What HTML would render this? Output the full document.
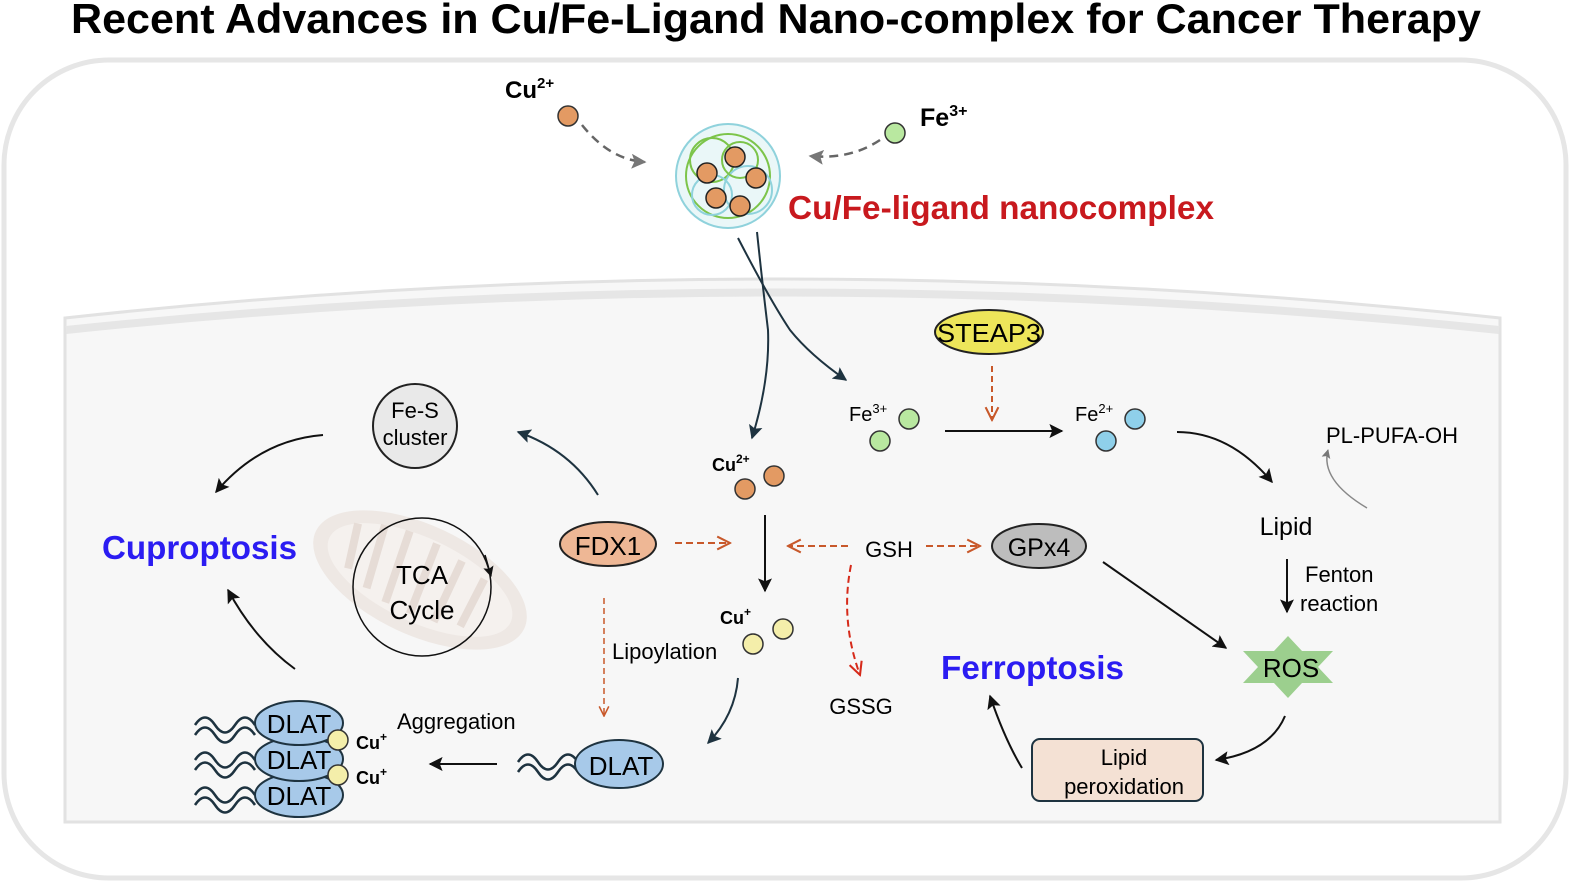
<!DOCTYPE html>
<html><head><meta charset="utf-8"><style>
html,body{margin:0;padding:0;background:#fff;}
svg{display:block;font-family:"Liberation Sans",sans-serif;}
</style></head><body>
<svg width="1581" height="886" viewBox="0 0 1581 886" xmlns="http://www.w3.org/2000/svg">
<defs>
<marker id="ab" viewBox="0 0 10 10" refX="9" refY="5" markerWidth="7" markerHeight="7" orient="auto-start-reverse"><path d="M0,0 L10,5 L0,10 L2,5 z" fill="#111"/></marker>
<marker id="an" viewBox="0 0 10 10" refX="9" refY="5" markerWidth="7" markerHeight="7" orient="auto"><path d="M0,0 L10,5 L0,10 L2,5 z" fill="#1e3340"/></marker>
<marker id="ag" viewBox="0 0 10 10" refX="9" refY="5" markerWidth="6" markerHeight="6" orient="auto"><path d="M0,0 L10,5 L0,10 L2,5 z" fill="#777"/></marker>
<marker id="ao" viewBox="0 0 10 10" refX="9" refY="5" markerWidth="8" markerHeight="8" orient="auto"><path d="M1,1 L9,5 L1,9" fill="none" stroke="#c8582a" stroke-width="1.3"/></marker>
<marker id="ar" viewBox="0 0 10 10" refX="9" refY="5" markerWidth="8" markerHeight="8" orient="auto"><path d="M1,1 L9,5 L1,9" fill="none" stroke="#d62a1a" stroke-width="1.3"/></marker>
</defs>
<rect width="1581" height="886" fill="#fff"/>
<text x="776" y="33" text-anchor="middle" font-size="42" font-weight="bold" fill="#000" textLength="1410" lengthAdjust="spacingAndGlyphs">Recent Advances in Cu/Fe-Ligand Nano-complex for Cancer Therapy</text>
<rect x="4" y="60" width="1562" height="818" rx="105" fill="#fff" stroke="#e6e6e6" stroke-width="5"/>
<path d="M65,318 Q780,240 1500,318 L1500,822 L65,822 Z" fill="#f7f7f7" stroke="#e2e2e2" stroke-width="3"/>
<path d="M66,330 Q780,255 1499,330" fill="none" stroke="#e6e6e6" stroke-width="8"/>
<text x="505" y="98" font-size="24" font-weight="bold">Cu<tspan font-size="15" dy="-10">2+</tspan></text>
<circle cx="568" cy="116" r="10" fill="#e39a63" stroke="#333" stroke-width="1.5"/>
<path d="M582,125 Q610,160 645,162" fill="none" stroke="#666" stroke-width="2.5" stroke-dasharray="9,6" marker-end="url(#ag)"/>
<text x="920" y="126" font-size="25" font-weight="bold">Fe<tspan font-size="16" dy="-10">3+</tspan></text>
<circle cx="895" cy="133" r="10" fill="#b9e8a0" stroke="#333" stroke-width="1.5"/>
<path d="M880,140 Q850,160 810,156" fill="none" stroke="#666" stroke-width="2.5" stroke-dasharray="9,6" marker-end="url(#ag)"/>
<g>
<circle cx="728" cy="176" r="52" fill="#eaf7f8" stroke="#8fd2dc" stroke-width="2"/>
<circle cx="728" cy="176" r="42" fill="none" stroke="#7cc44a" stroke-width="2"/>
<circle cx="712" cy="160" r="22" fill="none" stroke="#7cc44a" stroke-width="2"/>
<circle cx="748" cy="190" r="24" fill="none" stroke="#8fd2dc" stroke-width="2"/>
<circle cx="740" cy="160" r="18" fill="none" stroke="#7cc44a" stroke-width="2"/>
<circle cx="712" cy="195" r="20" fill="none" stroke="#8fd2dc" stroke-width="2"/>
<circle cx="735" cy="157" r="10" fill="#e39a63" stroke="#222" stroke-width="1.5"/>
<circle cx="707" cy="173" r="10" fill="#e39a63" stroke="#222" stroke-width="1.5"/>
<circle cx="756" cy="178" r="10" fill="#e39a63" stroke="#222" stroke-width="1.5"/>
<circle cx="716" cy="198" r="10" fill="#e39a63" stroke="#222" stroke-width="1.5"/>
<circle cx="740" cy="206" r="10" fill="#e39a63" stroke="#222" stroke-width="1.5"/>
</g>
<text x="788" y="219" font-size="33" font-weight="bold" fill="#c8191e" textLength="426" lengthAdjust="spacingAndGlyphs">Cu/Fe-ligand nanocomplex</text>
<path d="M757,232 Q762,280 768,330 Q770,380 752,438" fill="none" stroke="#1e3340" stroke-width="2" marker-end="url(#an)"/>
<path d="M738,238 Q770,300 790,330 Q810,355 846,380" fill="none" stroke="#1e3340" stroke-width="2" marker-end="url(#an)"/>
<ellipse cx="989" cy="332" rx="54" ry="22" fill="#ede55a" stroke="#222" stroke-width="2"/>
<text x="989" y="342" text-anchor="middle" font-size="26" textLength="104" lengthAdjust="spacingAndGlyphs">STEAP3</text>
<path d="M992,366 L992,420" stroke="#c8582a" stroke-width="2" stroke-dasharray="6,4" fill="none" marker-end="url(#ao)"/>
<text x="849" y="421" font-size="20">Fe<tspan font-size="13" dy="-8">3+</tspan></text>
<circle cx="909" cy="419" r="10" fill="#b9e8a0" stroke="#333" stroke-width="1.5"/>
<circle cx="880" cy="441" r="10" fill="#b9e8a0" stroke="#333" stroke-width="1.5"/>
<path d="M945,431 L1062,431" stroke="#111" stroke-width="2" marker-end="url(#ab)"/>
<text x="1075" y="421" font-size="20">Fe<tspan font-size="13" dy="-8">2+</tspan></text>
<circle cx="1135" cy="419" r="10" fill="#8fd0ea" stroke="#333" stroke-width="1.5"/>
<circle cx="1106" cy="441" r="10" fill="#8fd0ea" stroke="#333" stroke-width="1.5"/>
<path d="M1177,432 Q1230,432 1272,482" fill="none" stroke="#111" stroke-width="2" marker-end="url(#ab)"/>
<text x="1326" y="443" font-size="22">PL-PUFA-OH</text>
<path d="M1367,508 Q1320,480 1328,450" fill="none" stroke="#888" stroke-width="1.5" marker-end="url(#ag)"/>
<text x="1286" y="535" text-anchor="middle" font-size="25">Lipid</text>
<path d="M1287,559 L1287,612" stroke="#111" stroke-width="2" marker-end="url(#ab)"/>
<text x="1305" y="582" font-size="22">Fenton</text>
<text x="1300" y="611" font-size="22">reaction</text>
<polygon points="1288,636 1302,651 1333,651 1318,667 1333,683 1302,683 1288,698 1274,683 1243,683 1258,667 1243,651 1274,651" fill="#9ccf8e"/>
<text x="1291" y="677" text-anchor="middle" font-size="26">ROS</text>
<path d="M1103,562 L1226,648" stroke="#111" stroke-width="2" marker-end="url(#ab)"/>
<path d="M1285,716 Q1270,752 1216,760" fill="none" stroke="#111" stroke-width="2" marker-end="url(#ab)"/>
<rect x="1032" y="739" width="171" height="62" rx="8" fill="#f4e1d4" stroke="#1e3340" stroke-width="2"/>
<text x="1124" y="765" text-anchor="middle" font-size="22">Lipid</text>
<text x="1124" y="794" text-anchor="middle" font-size="22">peroxidation</text>
<path d="M1022,768 Q1005,740 990,696" fill="none" stroke="#111" stroke-width="2" marker-end="url(#ab)"/>
<text x="941" y="679" font-size="33" font-weight="bold" fill="#2b1cf2" textLength="183" lengthAdjust="spacingAndGlyphs">Ferroptosis</text>
<text x="889" y="557" text-anchor="middle" font-size="22">GSH</text>
<path d="M926,546 L980,546" stroke="#c8582a" stroke-width="2" stroke-dasharray="7,4" fill="none" marker-end="url(#ao)"/>
<path d="M848,546 L788,546" stroke="#c8582a" stroke-width="2" stroke-dasharray="7,4" fill="none" marker-end="url(#ao)"/>
<path d="M851,565 Q840,620 860,675" fill="none" stroke="#d62a1a" stroke-width="2" stroke-dasharray="7,4" marker-end="url(#ar)"/>
<text x="861" y="714" text-anchor="middle" font-size="22">GSSG</text>
<ellipse cx="1039" cy="546" rx="47" ry="22" fill="#bdbdbd" stroke="#222" stroke-width="2"/>
<text x="1039" y="556" text-anchor="middle" font-size="25">GPx4</text>
<text x="712" y="471" font-size="18" font-weight="bold">Cu<tspan font-size="12" dy="-8">2+</tspan></text>
<circle cx="774" cy="476" r="10" fill="#e39a63" stroke="#333" stroke-width="1.5"/>
<circle cx="745" cy="489" r="10" fill="#e39a63" stroke="#333" stroke-width="1.5"/>
<path d="M765,515 L765,591" stroke="#111" stroke-width="2" marker-end="url(#ab)"/>
<text x="720" y="624" font-size="18" font-weight="bold">Cu<tspan font-size="12" dy="-8">+</tspan></text>
<circle cx="783" cy="629" r="10" fill="#f4eeaa" stroke="#333" stroke-width="1.5"/>
<circle cx="753" cy="644" r="10" fill="#f4eeaa" stroke="#333" stroke-width="1.5"/>
<text x="612" y="659" font-size="22">Lipoylation</text>
<path d="M738,678 Q735,715 708,743" fill="none" stroke="#1e3340" stroke-width="2" marker-end="url(#an)"/>
<ellipse cx="608" cy="544" rx="48" ry="22" fill="#eeb795" stroke="#222" stroke-width="2"/>
<text x="608" y="555" text-anchor="middle" font-size="26">FDX1</text>
<path d="M675,543 L730,543" stroke="#c8582a" stroke-width="2" stroke-dasharray="7,4" fill="none" marker-end="url(#ao)"/>
<path d="M604,598 L604,716" stroke="#c8582a" stroke-width="1.5" stroke-dasharray="6,4" fill="none" marker-end="url(#ao)"/>
<path d="M598,495 Q570,450 518,432" fill="none" stroke="#1e3340" stroke-width="2" marker-end="url(#an)"/>
<circle cx="415" cy="426" r="42" fill="#e9e9e9" stroke="#222" stroke-width="2"/>
<text x="415" y="418" text-anchor="middle" font-size="22">Fe-S</text>
<text x="415" y="445" text-anchor="middle" font-size="22">cluster</text>
<path d="M323,435 Q260,440 216,492" fill="none" stroke="#111" stroke-width="2" marker-end="url(#ab)"/>
<text x="102" y="559" font-size="33" font-weight="bold" fill="#2b1cf2" textLength="195" lengthAdjust="spacingAndGlyphs">Cuproptosis</text>
<path d="M295,669 Q255,640 228,590" fill="none" stroke="#111" stroke-width="2" marker-end="url(#ab)"/>
<g transform="rotate(25 420 580)">
<ellipse cx="420" cy="580" rx="115" ry="55" fill="#ebe3df" opacity="0.8"/>
<ellipse cx="420" cy="580" rx="100" ry="42" fill="#f5f1ee"/>
<path d="M340,555 L350,600 M365,545 L375,610 M390,540 L398,615 M420,540 L425,615 M450,545 L450,612 M478,552 L476,605" stroke="#e6dcd6" stroke-width="8"/>
</g>
<circle cx="422" cy="587" r="69" fill="none" stroke="#111" stroke-width="1.5"/>
<path d="M485,555 L491,576" stroke="#111" stroke-width="1.5" marker-end="url(#ab)"/>
<text x="422" y="584" text-anchor="middle" font-size="26">TCA</text>
<text x="422" y="619" text-anchor="middle" font-size="26">Cycle</text>
<path d="M518,772 q10,-15 20,0 t20,0 t20,0 M518,762 q10,-15 20,0 t20,0 t20,0" fill="none" stroke="#1e3340" stroke-width="2.5"/>
<ellipse cx="619" cy="764" rx="44" ry="24" fill="#a7c9e9" stroke="#1e3340" stroke-width="2"/>
<text x="621" y="775" text-anchor="middle" font-size="26">DLAT</text>
<path d="M497,764 L430,764" stroke="#111" stroke-width="2" marker-end="url(#ab)"/>
<text x="397" y="729" font-size="22">Aggregation</text>
<g fill="none" stroke="#1e3340" stroke-width="2.5">
<path d="M195,725 q10,-15 20,0 t20,0 t20,0 M195,735 q10,-15 20,0 t20,0 t20,0"/>
<path d="M195,760 q10,-15 20,0 t20,0 t20,0 M195,770 q10,-15 20,0 t20,0 t20,0"/>
<path d="M195,795 q10,-15 20,0 t20,0 t20,0 M195,805 q10,-15 20,0 t20,0 t20,0"/>
</g>
<ellipse cx="299" cy="795" rx="44" ry="22" fill="#a7c9e9" stroke="#1e3340" stroke-width="2"/>
<ellipse cx="299" cy="759" rx="44" ry="22" fill="#a7c9e9" stroke="#1e3340" stroke-width="2"/>
<ellipse cx="299" cy="723" rx="44" ry="22" fill="#a7c9e9" stroke="#1e3340" stroke-width="2"/>
<text x="299" y="733" text-anchor="middle" font-size="26">DLAT</text>
<text x="299" y="769" text-anchor="middle" font-size="26">DLAT</text>
<text x="299" y="805" text-anchor="middle" font-size="26">DLAT</text>
<circle cx="338" cy="740" r="10" fill="#f4eeaa" stroke="#333" stroke-width="1.5"/>
<circle cx="338" cy="775" r="10" fill="#f4eeaa" stroke="#333" stroke-width="1.5"/>
<text x="356" y="749" font-size="18" font-weight="bold">Cu<tspan font-size="12" dy="-8">+</tspan></text>
<text x="356" y="784" font-size="18" font-weight="bold">Cu<tspan font-size="12" dy="-8">+</tspan></text>
</svg>
</body></html>
